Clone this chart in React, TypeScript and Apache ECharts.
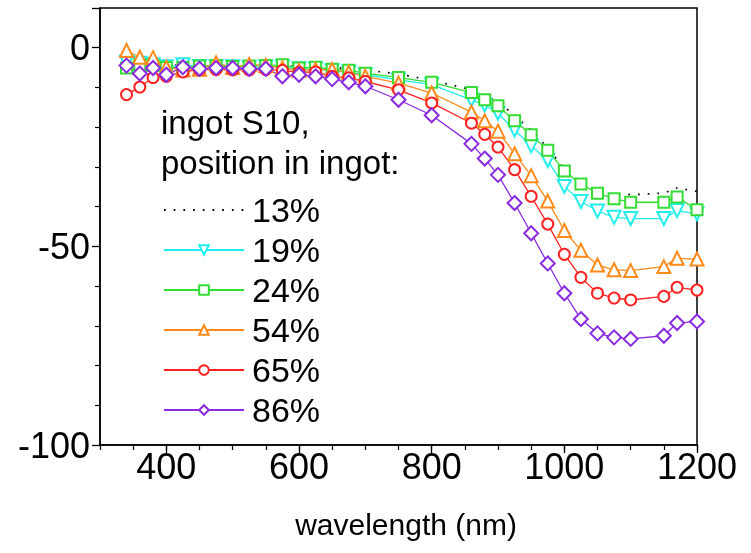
import React, { useEffect, useRef } from "react";
import * as echarts from "echarts";

const wavelengths = [340, 360, 380, 400, 425, 450, 475, 500, 525, 550, 575, 600, 625, 650, 675, 700, 750, 800, 860, 880, 900, 925, 950, 975, 1000, 1025, 1050, 1075, 1100, 1150, 1170, 1200];

const s13 = [-3.5, -3.8, -4.0, -4.3, -4.5, -4.5, -4.6, -4.6, -4.6, -4.6, -4.5, -4.7, -4.8, -5.0, -5.2, -5.6, -6.6, -8.2, -10.6, -12.0, -13.6, -17.0, -20.8, -25.2, -30.5, -34.5, -36.4, -37.0, -37.0, -36.6, -35.3, -36.2];
const s19 = [-3.6, -3.9, -4.3, -4.8, -4.3, -4.7, -4.8, -4.8, -5.0, -4.8, -4.8, -5.3, -5.3, -5.8, -6.2, -6.8, -8.1, -9.3, -13.1, -14.4, -16.5, -20.7, -24.7, -28.4, -34.9, -38.7, -41.1, -42.7, -43.0, -43.0, -41.0, -41.8];
const s24 = [-5.1, -4.3, -4.5, -5.0, -5.0, -4.6, -4.5, -4.7, -4.6, -4.5, -4.3, -5.1, -4.9, -5.4, -5.7, -6.4, -7.5, -8.7, -11.3, -13.1, -14.6, -18.4, -21.9, -25.8, -31.0, -34.3, -36.6, -38.0, -38.9, -38.9, -37.6, -40.8];
const s54 = [-0.7, -2.4, -2.5, -4.9, -5.6, -5.4, -3.8, -5.0, -4.2, -4.5, -5.1, -5.7, -5.5, -5.5, -6.2, -7.2, -8.9, -11.4, -16.2, -18.4, -21.0, -26.7, -32.2, -38.6, -46.0, -51.0, -54.7, -55.9, -56.1, -55.1, -53.0, -53.2];
const s65 = [-11.8, -9.9, -7.5, -7.2, -6.1, -5.5, -5.5, -5.6, -5.6, -5.5, -5.7, -6.2, -6.1, -7.2, -7.6, -8.5, -10.6, -13.9, -19.0, -21.8, -25.0, -30.7, -37.4, -44.4, -52.0, -57.8, -61.8, -63.0, -63.5, -62.6, -60.3, -61.0];
const s86 = [-4.5, -6.5, -5.1, -6.8, -4.9, -5.3, -5.1, -5.1, -5.3, -5.3, -7.2, -6.8, -7.2, -7.9, -8.7, -9.7, -13.1, -17.0, -24.2, -27.9, -32.0, -39.1, -46.7, -54.3, -61.8, -68.3, -71.9, -72.9, -73.3, -72.5, -69.3, -68.9];

const seriesNames = ["13%", "19%", "24%", "54%", "65%", "86%"];
const xLabelValues = [400, 600, 800, 1000, 1200];
const headerLines = ["ingot S10,", "position in ingot:"];

const FONT = "'Liberation Sans', Arial, sans-serif";

export default function App() {
  const ref = useRef<HTMLDivElement>(null);
  useEffect(() => {
    if (!ref.current) return;
    const chart = echarts.init(ref.current, null, { renderer: "svg" });
    const pair = (ys: number[]) => wavelengths.map((x, i) => [x, ys[i]]);
    const mk = (name: string, ys: number[], color: string, symbol: string, size: number, rotate = 0) => ({
      name,
      type: "line",
      data: pair(ys),
      symbol,
      symbolSize: size,
      symbolRotate: rotate,
      showSymbol: true,
      lineStyle: { color, width: 1.3 },
      itemStyle: { color, borderColor: color, borderWidth: 1.2 },
    });
    chart.setOption({
      animation: false,
      textStyle: { fontFamily: FONT },
      grid: {
        left: 100,
        top: 8,
        right: 54,
        bottom: 108,
        show: true,
        borderColor: "#000",
        borderWidth: 1.5,
        outerBoundsMode: "none",
        containLabel: false,
      },
      legend: {
        orient: "vertical",
        left: 163,
        top: 193,
        padding: 0,
        itemWidth: 80,
        itemHeight: 12,
        itemGap: 6,
        data: seriesNames.map((n, i) => (i === 0 ? { name: n, itemStyle: { opacity: 0 } } : { name: n })),
        textStyle: { fontSize: 34, color: "#000", fontFamily: FONT, padding: [0, 0, 0, 3] },
      },
      graphic: headerLines.map((t, i) => ({
        type: "text",
        x: 161,
        y: 122 + i * 40,
        style: { text: t, fontSize: 33, fill: "#000", fontFamily: FONT, textVerticalAlign: "middle", verticalAlign: "middle" },
      })),
      xAxis: [
        {
          type: "value",
          min: 300,
          max: 1200,
          interval: 100,
          name: "wavelength (nm)",
          nameLocation: "middle",
          nameGap: 64,
          nameTextStyle: { fontSize: 30, color: "#000", fontFamily: FONT, padding: [0, 0, 0, 15] },
          axisLine: { onZero: false, lineStyle: { color: "#000", width: 1.5 } },
          axisTick: { show: true, length: 8, customValues: xLabelValues, lineStyle: { color: "#000", width: 1.3 } },
          axisLabel: {
            customValues: xLabelValues,
            fontSize: 36,
            color: "#000",
            margin: 3,
            fontFamily: FONT,
            formatter: (v: number) => String(v),
          },
          splitLine: { show: false },
        },
        {
          type: "value",
          min: 300,
          max: 1200,
          interval: 50,
          position: "bottom",
          axisLine: { show: false, onZero: false },
          axisTick: { show: true, length: 5, lineStyle: { color: "#000", width: 1.2 } },
          axisLabel: { show: false },
          splitLine: { show: false },
        },
      ],
      yAxis: [
        {
          type: "value",
          min: -100,
          max: 10,
          interval: 50,
          axisLine: { show: true, onZero: false, lineStyle: { color: "#000", width: 1.5 } },
          axisTick: { show: true, length: 8, lineStyle: { color: "#000", width: 1.3 } },
          minorTick: { show: true, splitNumber: 5, length: 5, lineStyle: { color: "#000", width: 1.2 } },
          axisLabel: {
            fontSize: 36,
            color: "#000",
            margin: 10,
            fontFamily: FONT,
            showMaxLabel: false,
            formatter: (v: number) => (v > 0 ? "" : String(v)),
          },
          splitLine: { show: false },
        },
      ],
      series: [
        {
          name: "13%",
          type: "line",
          data: pair(s13),
          symbol: "none",
          lineStyle: { color: "#000", width: 1.7, type: [1.7, 8] },
          itemStyle: { color: "#000" },
        },
        mk("19%", s19, "#22eeee", "emptyTriangle", 13, 180),
        mk("24%", s24, "#33dd33", "emptyRect", 11),
        mk("54%", s54, "#ff8a1a", "emptyTriangle", 13),
        mk("65%", s65, "#ff2222", "emptyCircle", 11),
        mk("86%", s86, "#8a2be2", "emptyDiamond", 14),
      ],
    });
    return () => chart.dispose();
  }, []);
  return <div ref={ref} style={{ position: "fixed", left: 0, top: 0, width: 751, height: 553 }} />;
}
